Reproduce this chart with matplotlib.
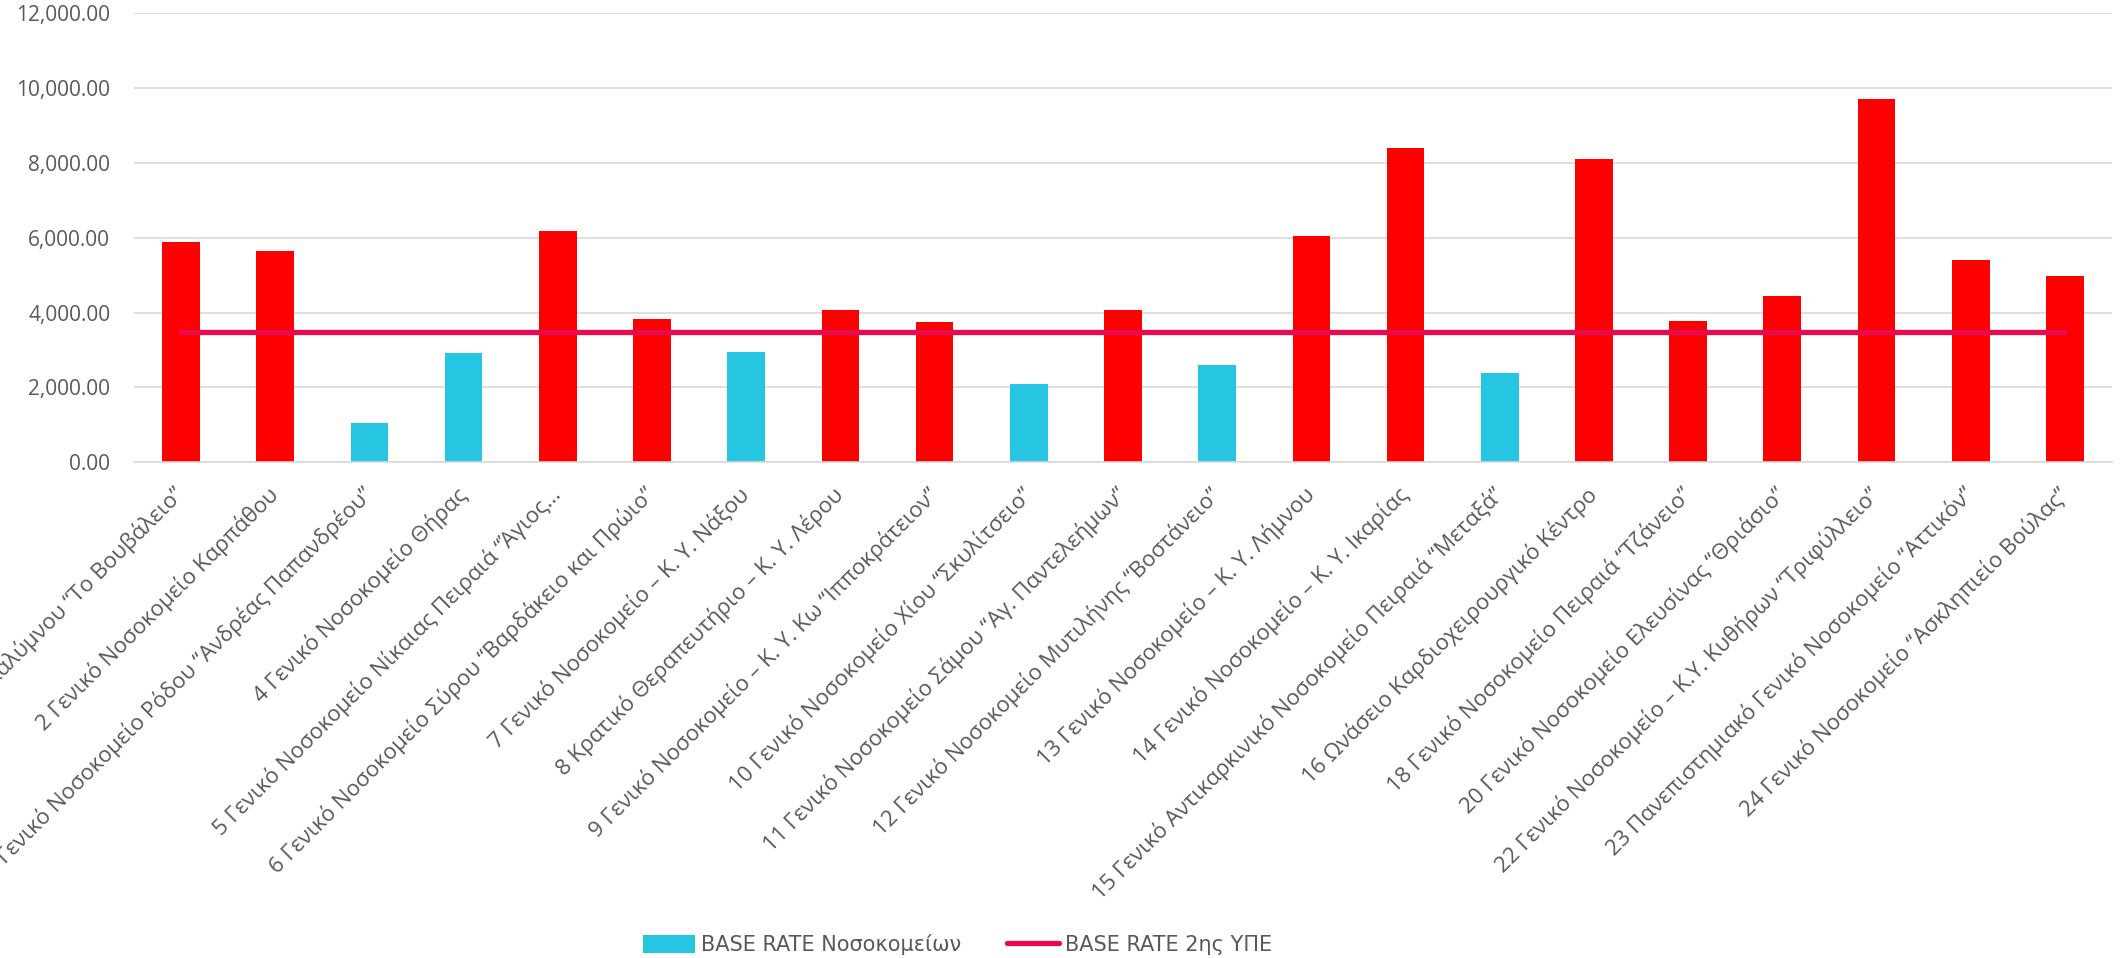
import matplotlib
matplotlib.use("Agg")
import matplotlib.pyplot as plt
import numpy as np
from matplotlib.patches import Patch
from matplotlib.lines import Line2D

# data
hospitals = [
    "1 Γενικό Νοσοκομείο Καλύμνου “Το Βουβάλειο”",
    "2 Γενικό Νοσοκομείο Καρπάθου",
    "3 Γενικό Νοσοκομείο Ρόδου “Ανδρέας Παπανδρέου”",
    "4 Γενικό Νοσοκομείο Θήρας",
    "5 Γενικό Νοσοκομείο Νίκαιας Πειραιά “Άγιος…",
    "6 Γενικό Νοσοκομείο Σύρου “Βαρδάκειο και Πρώιο”",
    "7 Γενικό Νοσοκομείο – Κ. Υ. Νάξου",
    "8 Κρατικό Θεραπευτήριο – Κ. Υ. Λέρου",
    "9 Γενικό Νοσοκομείο – Κ. Υ. Κω “Ιπποκράτειον”",
    "10 Γενικό Νοσοκομείο Χίου “Σκυλίτσειο”",
    "11 Γενικό Νοσοκομείο Σάμου “Αγ. Παντελεήμων”",
    "12 Γενικό Νοσοκομείο Μυτιλήνης “Βοστάνειο”",
    "13 Γενικό Νοσοκομείο – Κ. Υ. Λήμνου",
    "14 Γενικό Νοσοκομείο – Κ. Υ. Ικαρίας",
    "15 Γενικό Αντικαρκινικό Νοσοκομείο Πειραιά “Μεταξά”",
    "16 Ωνάσειο Καρδιοχειρουργικό Κέντρο",
    "18 Γενικό Νοσοκομείο Πειραιά “Τζάνειο”",
    "20 Γενικό Νοσοκομείο Ελευσίνας “Θριάσιο”",
    "22 Γενικό Νοσοκομείο – Κ.Υ. Κυθήρων “Τριφύλλειο”",
    "23 Πανεπιστημιακό Γενικό Νοσοκομείο “Αττικόν”",
    "24 Γενικό Νοσοκομείο “Ασκληπιείο Βούλας”",
]
base_rate_hosp = [5890, 5650, 1060, 2930, 6180, 3830, 2950, 4070, 3750, 2090, 4070,
                  2600, 6050, 8400, 2390, 8110, 3780, 4450, 9710, 5410, 4980]
base_rate_ype = 3480

red = "#FF0000"
blue = "#26C6E3"
pink = "#E8094F"
grey_text = "#595959"

plt.rcParams['font.family'] = ['Open Sans', 'DejaVu Sans']

fig = plt.figure(figsize=(21.23, 9.58), dpi=100)
ax = fig.add_axes([0.0631, 0.5174, 0.9317, 0.469])

x = np.arange(len(hospitals))
colors = [blue if v < base_rate_ype else red for v in base_rate_hosp]
ax.bar(x, base_rate_hosp, width=0.4, color=colors, zorder=2)
ax.plot(x, [base_rate_ype] * len(x), color=pink, linewidth=3.8,
        solid_capstyle='round', zorder=3)

ax.set_xlim(-0.5, len(x) - 0.5)
ax.set_ylim(0, 12000)
ax.set_yticks(np.arange(0, 12001, 2000))
ax.set_yticklabels([f"{v:,.2f}" for v in np.arange(0, 12001, 2000)],
                   fontsize=15, color=grey_text)
ax.yaxis.grid(True, color="#D9D9D9", linewidth=1.2, zorder=0)
ax.set_axisbelow(True)
for s in ['top', 'right', 'left']:
    ax.spines[s].set_visible(False)
ax.spines['bottom'].set_color("#D9D9D9")
ax.spines['bottom'].set_linewidth(1.2)
ax.tick_params(axis='y', length=0, pad=17)
ax.tick_params(axis='x', length=0, pad=21)

ax.set_xticks(x)
ax.set_xticklabels(hospitals, rotation=45, ha='right', va='center',
                   rotation_mode='anchor', fontsize=16, color=grey_text)

handles = [Patch(facecolor=blue, edgecolor='none'),
           Line2D([0], [0], color=pink, linewidth=3.8, solid_capstyle='round')]
fig.legend(handles, ["BASE RATE Νοσοκομείων", "BASE RATE 2ης ΥΠΕ"],
           loc='center', bbox_to_anchor=(0.451, 0.014), ncol=2, frameon=False,
           prop={'family': ['Liberation Sans Narrow', 'DejaVu Sans'], 'size': 15},
           labelcolor=grey_text, handlelength=2.5, handleheight=0.9,
           handletextpad=0.3, columnspacing=2.2)

plt.savefig("out.png", dpi=100)
plt.close()
